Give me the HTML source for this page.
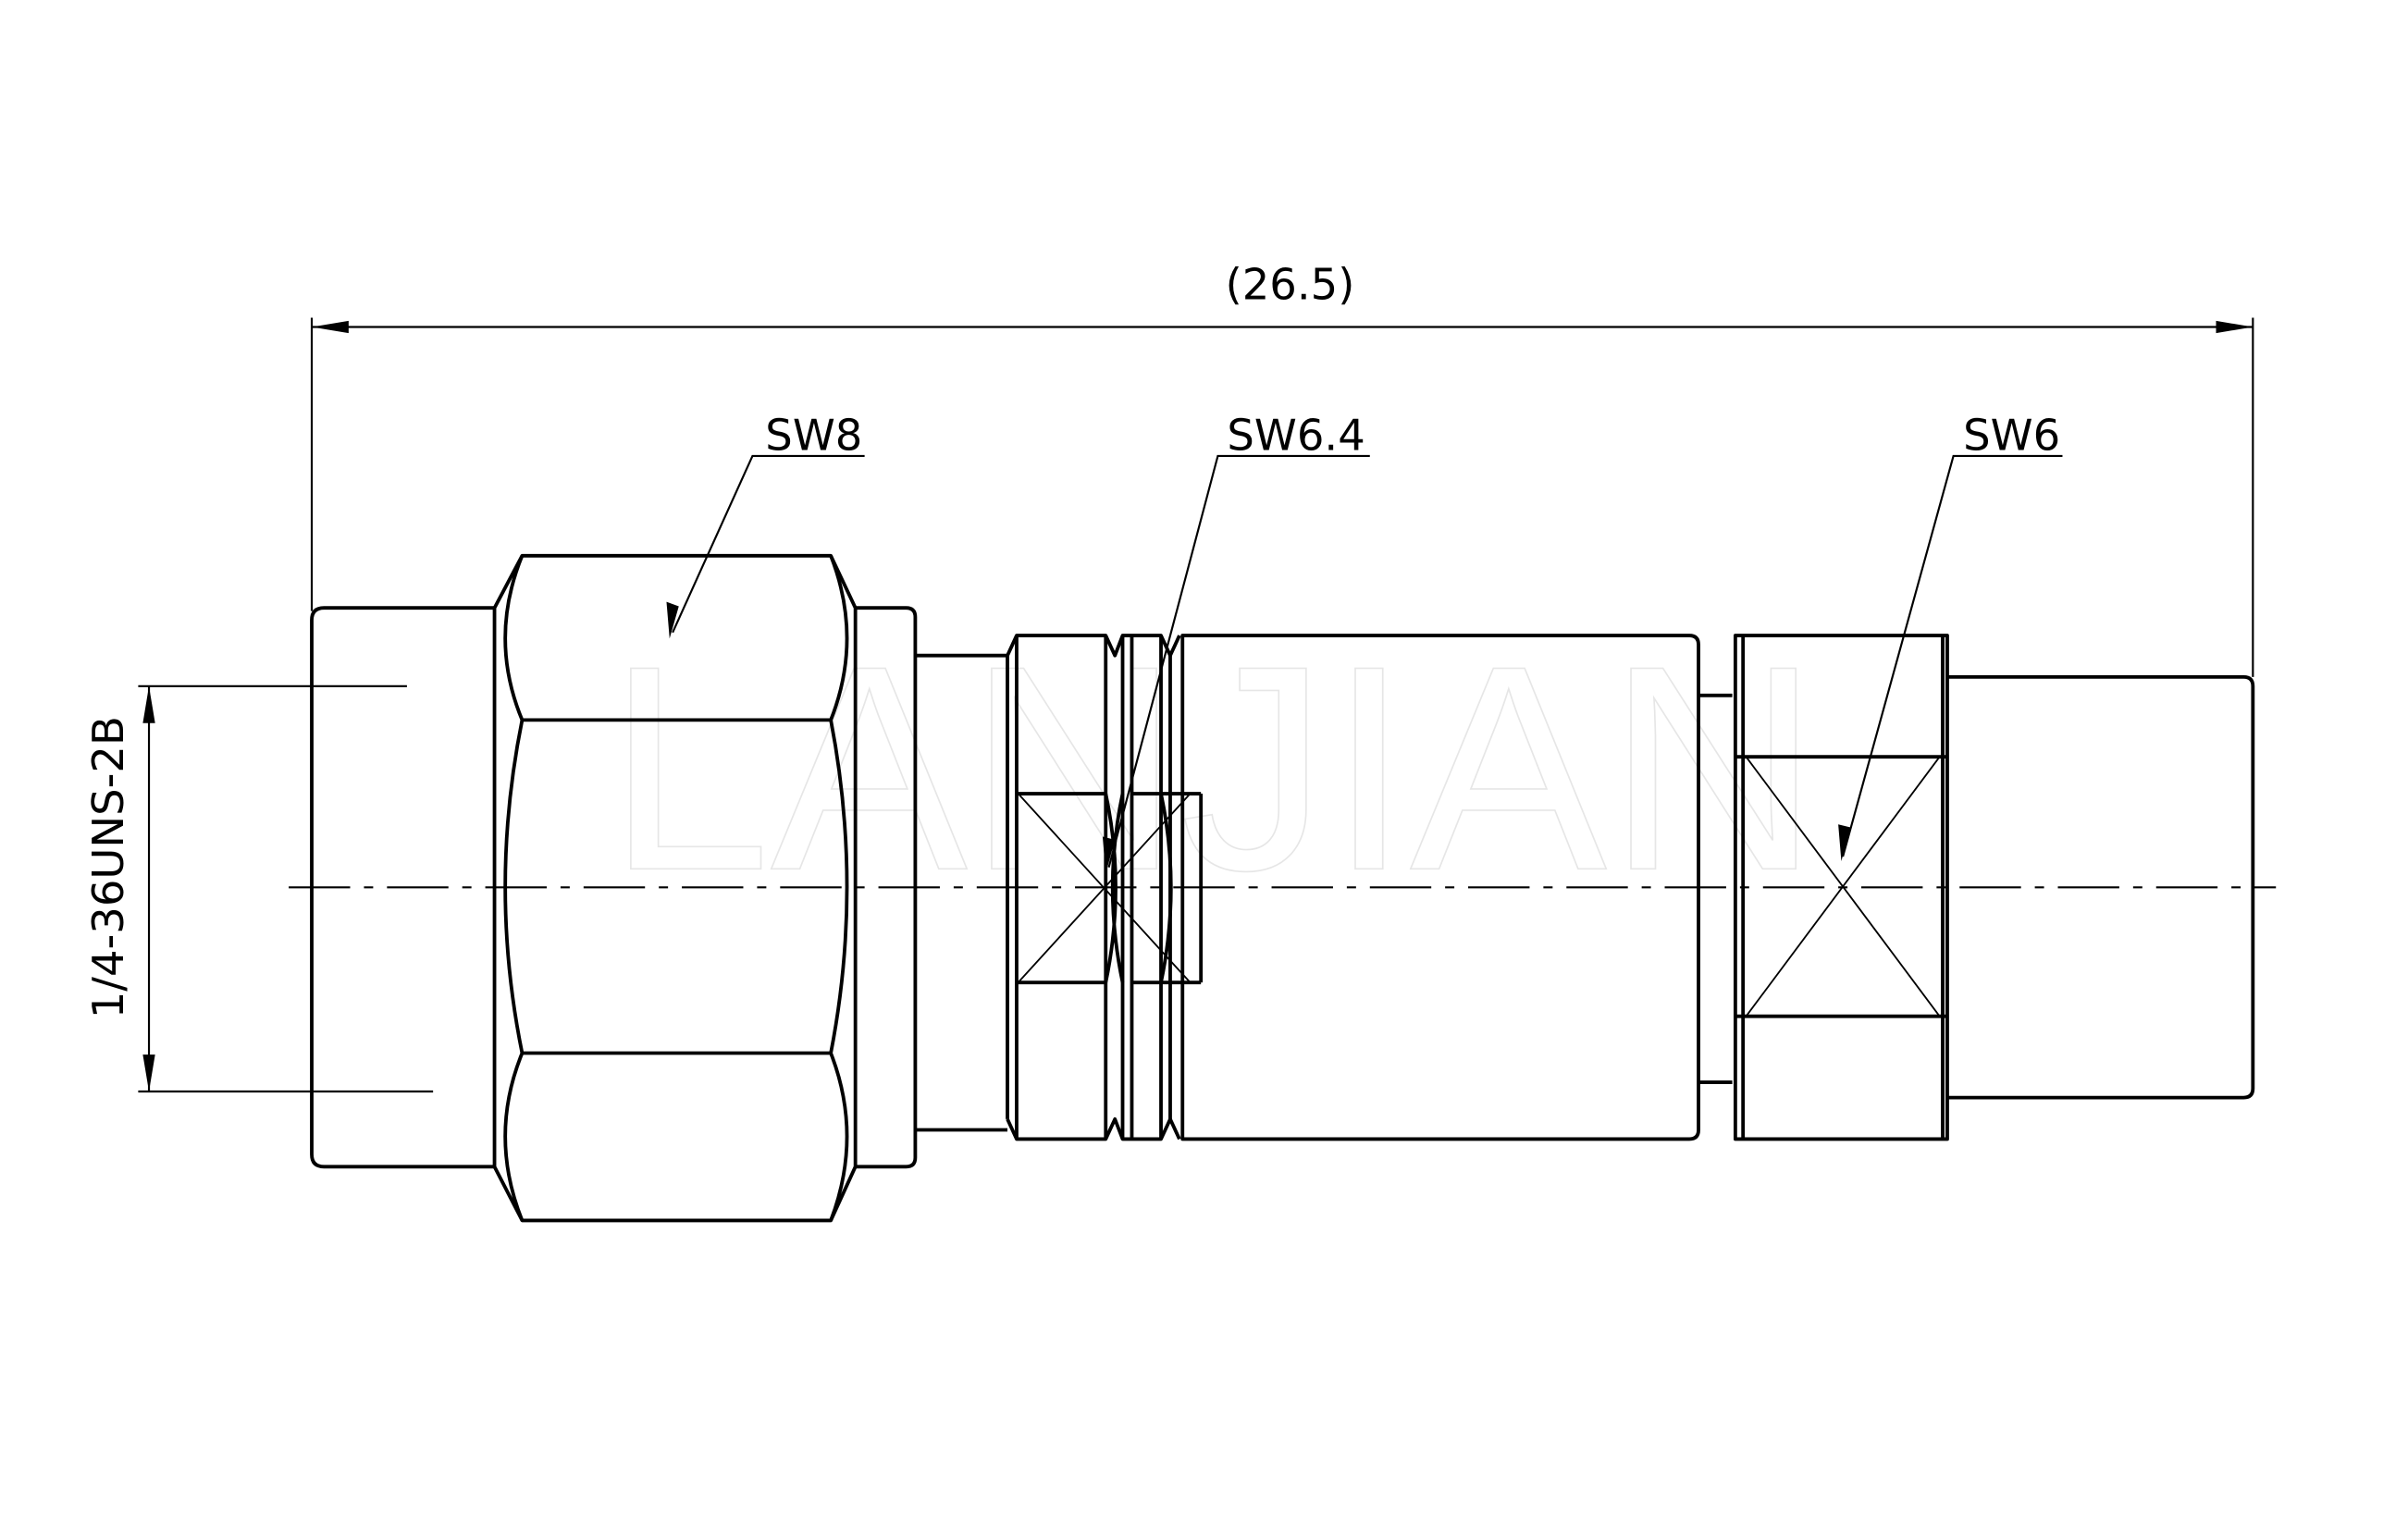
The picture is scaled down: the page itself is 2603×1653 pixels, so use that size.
<!DOCTYPE html>
<html><head><meta charset="utf-8"><style>
html,body{margin:0;padding:0;background:#fff;}
svg{display:block;}
text.t{font-family:"DejaVu Sans","Liberation Sans",sans-serif;fill:#000;}
</style></head><body>
<svg width="2603" height="1653" viewBox="0 0 1568 996" preserveAspectRatio="none" xmlns="http://www.w3.org/2000/svg">
<rect width="1568" height="996" fill="#fff"/>
<text x="395" y="566" font-size="190" font-family="Liberation Sans" style="fill:none;stroke:#e6e6e6;stroke-width:1" textLength="790" lengthAdjust="spacingAndGlyphs">LANJIAN</text>

<g stroke="#000" fill="none" stroke-width="1.3">
<line x1="203" y1="207" x2="203" y2="398"/>
<line x1="1467" y1="207" x2="1467" y2="441"/>
<line x1="203" y1="213" x2="1467" y2="213"/>
<line x1="90" y1="447" x2="265" y2="447"/>
<line x1="90" y1="711" x2="282" y2="711"/>
<line x1="97" y1="447" x2="97" y2="711"/>
<polyline points="563,297 490,297 438,412"/>
<polyline points="892,297 793,297 722,565"/>
<polyline points="1343,297 1272,297 1200,558"/>
<line x1="188" y1="578" x2="1482" y2="578" stroke-dasharray="40,9,6,9"/>
</g>
<g fill="#000">
<polygon points="203,213 227,209 227,217"/>
<polygon points="1467,213 1443,209 1443,217"/>
<polygon points="97,447 93,471 101,471"/>
<polygon points="97,711 93,687 101,687"/>
<polygon points="436,416 434,392 442,395"/>
<polygon points="720,569 718,545 726,547"/>
<polygon points="1199,561 1197,537 1205,539"/>
</g>

<g stroke="#000" fill="none" stroke-width="2.3" stroke-linejoin="round">
<path d="M322,396 H211 Q203,396 203,404 V752 Q203,760 211,760 H322"/>
<path d="M322,396 L340,362 H541 L557,396 V760 L541,795 H340 L322,760 Z"/>
<line x1="340" y1="469" x2="541" y2="469"/>
<line x1="340" y1="686" x2="541" y2="686"/>
<path d="M340,362 Q318,416 340,469" />
<path d="M541,362 Q562,416 541,469" />
<path d="M340,469 Q318,578 340,686"/>
<path d="M541,469 Q562,578 541,686"/>
<path d="M340,686 Q318,740 340,795"/>
<path d="M541,686 Q562,740 541,795"/>
<path d="M557,396 H590 Q596,396 596,402 V754 Q596,760 590,760 H557"/>
<path d="M596,427 H656 M596,736 H656"/>
<path d="M656,427 L662,414 H720 L726,427 L731,414 H756 L762,427 L768,414"/>
<path d="M656,729 L662,742 H720 L726,729 L731,742 H756 L762,729 L768,742"/>
<line x1="656" y1="427" x2="656" y2="729"/>
<line x1="662" y1="414" x2="662" y2="742"/>
<line x1="720" y1="414" x2="720" y2="742"/>
<line x1="731" y1="414" x2="731" y2="742"/>
<line x1="737" y1="414" x2="737" y2="742"/>
<line x1="756" y1="414" x2="756" y2="742"/>
<line x1="762" y1="427" x2="762" y2="729"/>
<line x1="662" y1="517" x2="720" y2="517"/>
<line x1="662" y1="640" x2="720" y2="640"/>
<line x1="737" y1="517" x2="782" y2="517"/>
<line x1="737" y1="640" x2="782" y2="640"/>
<line x1="782" y1="517" x2="782" y2="640"/>
<path d="M720,517 Q733,578 720,640 M731,517 Q718,578 731,640 M756,517 Q769,578 756,640"/>
<path d="M770,414 H1100 Q1106,414 1106,420 V736 Q1106,742 1100,742 H770 Z"/>
<path d="M1106,453 H1128 M1106,705 H1128"/>
<path d="M1130,414 H1268 V742 H1130 Z"/>
<line x1="1135" y1="414" x2="1135" y2="742"/>
<line x1="1265" y1="414" x2="1265" y2="742"/>
<line x1="1130" y1="493" x2="1268" y2="493"/>
<line x1="1130" y1="662" x2="1268" y2="662"/>
<path d="M1268,441 H1461 Q1467,441 1467,447 V709 Q1467,715 1461,715 H1268"/>
</g>
<g stroke="#000" stroke-width="1.1">
<line x1="663" y1="517" x2="775" y2="640"/>
<line x1="775" y1="517" x2="663" y2="640"/>
<line x1="1137" y1="493" x2="1263" y2="662"/>
<line x1="1263" y1="493" x2="1137" y2="662"/>
</g>

<text class="t" x="840" y="195" font-size="28" text-anchor="middle">(26.5)</text>
<text class="t" x="530" y="293" font-size="28" text-anchor="middle">SW8</text>
<text class="t" x="844" y="293" font-size="28" text-anchor="middle">SW6.4</text>
<text class="t" x="1310" y="293" font-size="28" text-anchor="middle">SW6</text>
<text class="t" x="0" y="0" font-size="28" text-anchor="middle" transform="translate(80,565) rotate(-90)">1/4-36UNS-2B</text>
</svg>
</body></html>
